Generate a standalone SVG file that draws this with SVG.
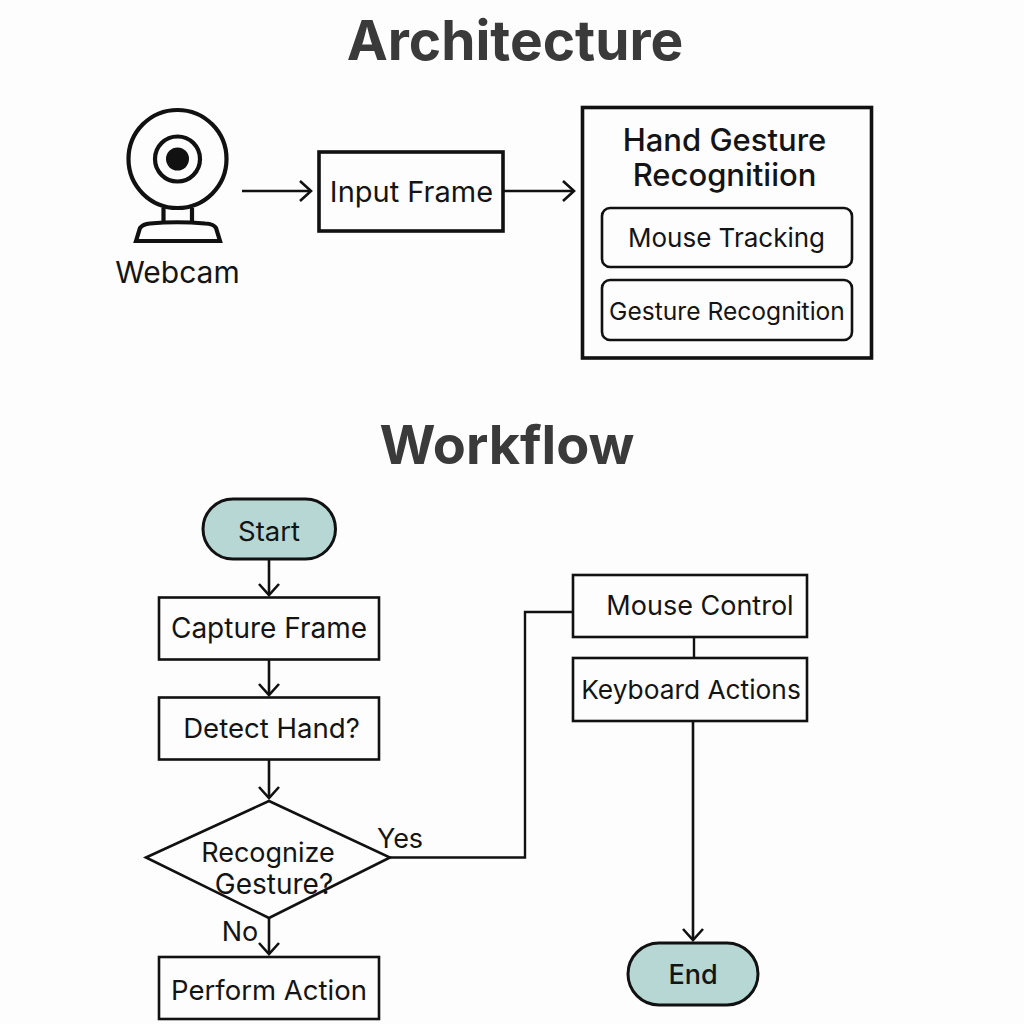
<svg xmlns="http://www.w3.org/2000/svg" width="1024" height="1024" viewBox="0 0 1024 1024">
<defs>
<marker id="arr" markerUnits="userSpaceOnUse" markerWidth="20" markerHeight="26" refX="14" refY="13" orient="auto"><path d="M3 3 L14 13 L3 23" fill="none" stroke="#111" stroke-width="2.600"/></marker>
</defs>
<style>
text{font-family:Inter,"Liberation Sans",sans-serif;fill:#141414;text-anchor:middle;font-size:27px}
.t{font-size:55px;font-weight:700;fill:#3a3a3a}
.b{fill:none;stroke:#111;stroke-width:2.600}
.h{fill:none;stroke:#111;stroke-width:3.600}
.w{fill:none;stroke:#111;stroke-width:4.200}
.p{fill:#b6d7d3;stroke:#111;stroke-width:3}
.c{fill:none;stroke:#111;stroke-width:2.400}
.ca{fill:none;stroke:#111;stroke-width:2.600;marker-end:url(#arr)}
</style>
<rect width="1024" height="1024" fill="#fdfdfd"/>
<text class="t" x="515" y="60">Architecture</text>
<text class="t" x="507" y="464" style="font-size:54px">Workflow</text>
<g id="webcam">
<circle class="w" cx="177.500" cy="159" r="49"/>
<circle class="w" cx="177.500" cy="159" r="22.500"/>
<circle cx="177.500" cy="159" r="11.500" fill="#111"/>
<path class="w" d="M163.500 208 V224 M192 208 V224"/>
<path class="w" d="M136 241 L140 228 Q143 224 150 223.500 Q177 221 205 223.500 Q214 224 216 228 L220 241 Z"/>
<text x="177.500" y="283" style="font-size:30px">Webcam</text>
</g>
<g id="input-frame"><rect class="h" x="319" y="152" width="184" height="79"/><text x="411.500" y="202" style="font-size:29px">Input Frame</text></g>
<g id="hand-gesture"><rect class="h" x="582.500" y="107.500" width="289" height="250.500"/>
<text x="724.500" y="151" style="font-size:31px;font-weight:500">Hand Gesture</text><text x="724.500" y="186" style="font-size:31px;font-weight:500">Recognitiion</text></g>
<g id="mouse-tracking"><rect class="b" x="602" y="208" width="250" height="59" rx="8"/><text x="726.500" y="247" style="font-size:26px">Mouse Tracking</text></g>
<g id="gesture-recognition"><rect class="b" x="602" y="280" width="250" height="60" rx="8"/><text x="727" y="320" style="font-size:24.600px">Gesture Recognition</text></g>
<g id="start"><rect class="p" x="203" y="499" width="132.500" height="60" rx="30"/><text x="269" y="541" style="font-size:27.500px">Start</text></g>
<g id="capture-frame"><rect class="b" x="159" y="597.500" width="220" height="62"/><text x="269" y="638" style="font-size:28px">Capture Frame</text></g>
<g id="detect-hand"><rect class="b" x="159" y="697.500" width="220" height="62"/><text x="271.500" y="738" style="font-size:27.600px">Detect Hand?</text></g>
<g id="recognize"><path class="b" d="M146 857.500 L269 801 L390 857.500 L269 918 Z"/><text x="268" y="862">Recognize</text><text x="274" y="894" style="font-size:28px">Gesture?</text></g>
<g id="perform-action"><rect class="b" x="159" y="957" width="220" height="62"/><text x="269" y="1000" style="font-size:27.500px">Perform Action</text></g>
<g id="mouse-control"><rect class="b" x="573" y="575" width="234" height="62"/><text x="700" y="615">Mouse Control</text></g>
<g id="keyboard-actions"><rect class="b" x="573" y="658" width="234" height="63"/><text x="691" y="699" style="font-size:26.300px">Keyboard Actions</text></g>
<g id="end"><rect class="p" x="628" y="943" width="130" height="62" rx="31"/><text x="693" y="984" style="font-weight:500">End</text></g>
<text x="400" y="848">Yes</text>
<text x="240" y="941">No</text>
<g id="connectors">
<path class="ca" d="M242 191 H311"/>
<path class="ca" d="M504 191 H574"/>
<path class="ca" d="M269 560 V595"/>
<path class="ca" d="M269 660 V695"/>
<path class="ca" d="M269 760 V798"/>
<path class="ca" d="M269 918 V954"/>
<path class="c" d="M390 857.500 H525 V612 H573"/>
<path class="c" d="M694 637 V658"/>
<path class="ca" d="M693 721 V940"/>
</g>
</svg>
